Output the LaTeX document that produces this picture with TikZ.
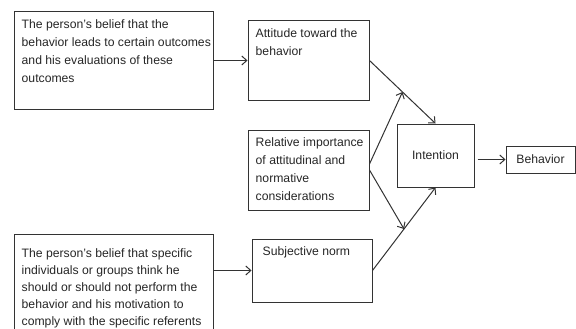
\documentclass[tikz,border=0pt]{standalone}
\usepackage{fontspec}
\setmainfont{Liberation Sans}
\usetikzlibrary{arrows.meta,calc}

\begin{document}
\begin{tikzpicture}[x=1pt, y=-1pt,
		block/.style={draw=black!80, line width=1pt, inner sep=0pt, font=\fontsize{12.2}{18}\selectfont, text=black!85},
		txt/.style={anchor=north west, align=left, inner sep=8pt, font=\fontsize{12.2}{18}\selectfont, text=black!85},
		link/.style={-{Straight Barb[length=5pt,width=9pt]}, line width=1pt, draw=black!80}
		]
		\useasboundingbox (0,0) rectangle (576,329);
		\node[block, minimum width=199pt, minimum height=97pt, label={[txt]north west:{The person’s belief that the\\behavior leads to certain outcomes\\and his evaluations of these\\outcomes}}] (bel1) at (113.5,60.5) {};
		\node[block, minimum width=121pt, minimum height=80pt, label={[txt]north west:{Attitude toward the\\behavior}}] (att) at (308.5,60.5) {};
		\node[block, minimum width=121pt, minimum height=80pt, label={[txt]north west:{Relative importance\\of attitudinal and\\normative\\considerations}}] (rel) at (308.5,170) {};
		\node[block, minimum width=77pt, minimum height=63pt] (int) at (435.5,155.5) {Intention};
		\node[block, minimum width=69pt, minimum height=27pt] (beh) at (540.5,159.5) {Behavior};
		\node[block, minimum width=120pt, minimum height=63pt, label={[txt, xshift=3pt]north west:{Subjective norm}}] (subj) at (312,270.5) {};
		\node[block, minimum width=199pt, minimum height=100pt, label={[txt, yshift=-7pt, font=\fontsize{12.2}{17}\selectfont]north west:{The person’s belief that specific\\individuals or groups think he\\should or should not perform the\\behavior and his motivation to\\comply with the specific referents}}] (bel2) at (113.5,284) {};
		% meeting points on the two slanted arrows
		\coordinate (upmid) at ($(att.east)!0.5!(int.north)$);
		\coordinate (downmid) at ($(subj.east)!0.5!(int.south)$);
		\draw[link] (bel1.east) -- (att.west);
		\draw[link] (subj.west -| bel2.east) -- (subj.west);
		\draw[link] (att.east) -- (int.north);
		\draw[link] (subj.east) -- (int.south);
		\draw[link] ([yshift=6pt]rel.east) -- (upmid);
		\draw[link] (rel.east) -- (downmid);
		\draw[link] ([xshift=3pt]beh.west -| int.east) -- (beh.west);
\end{tikzpicture}
\end{document}
